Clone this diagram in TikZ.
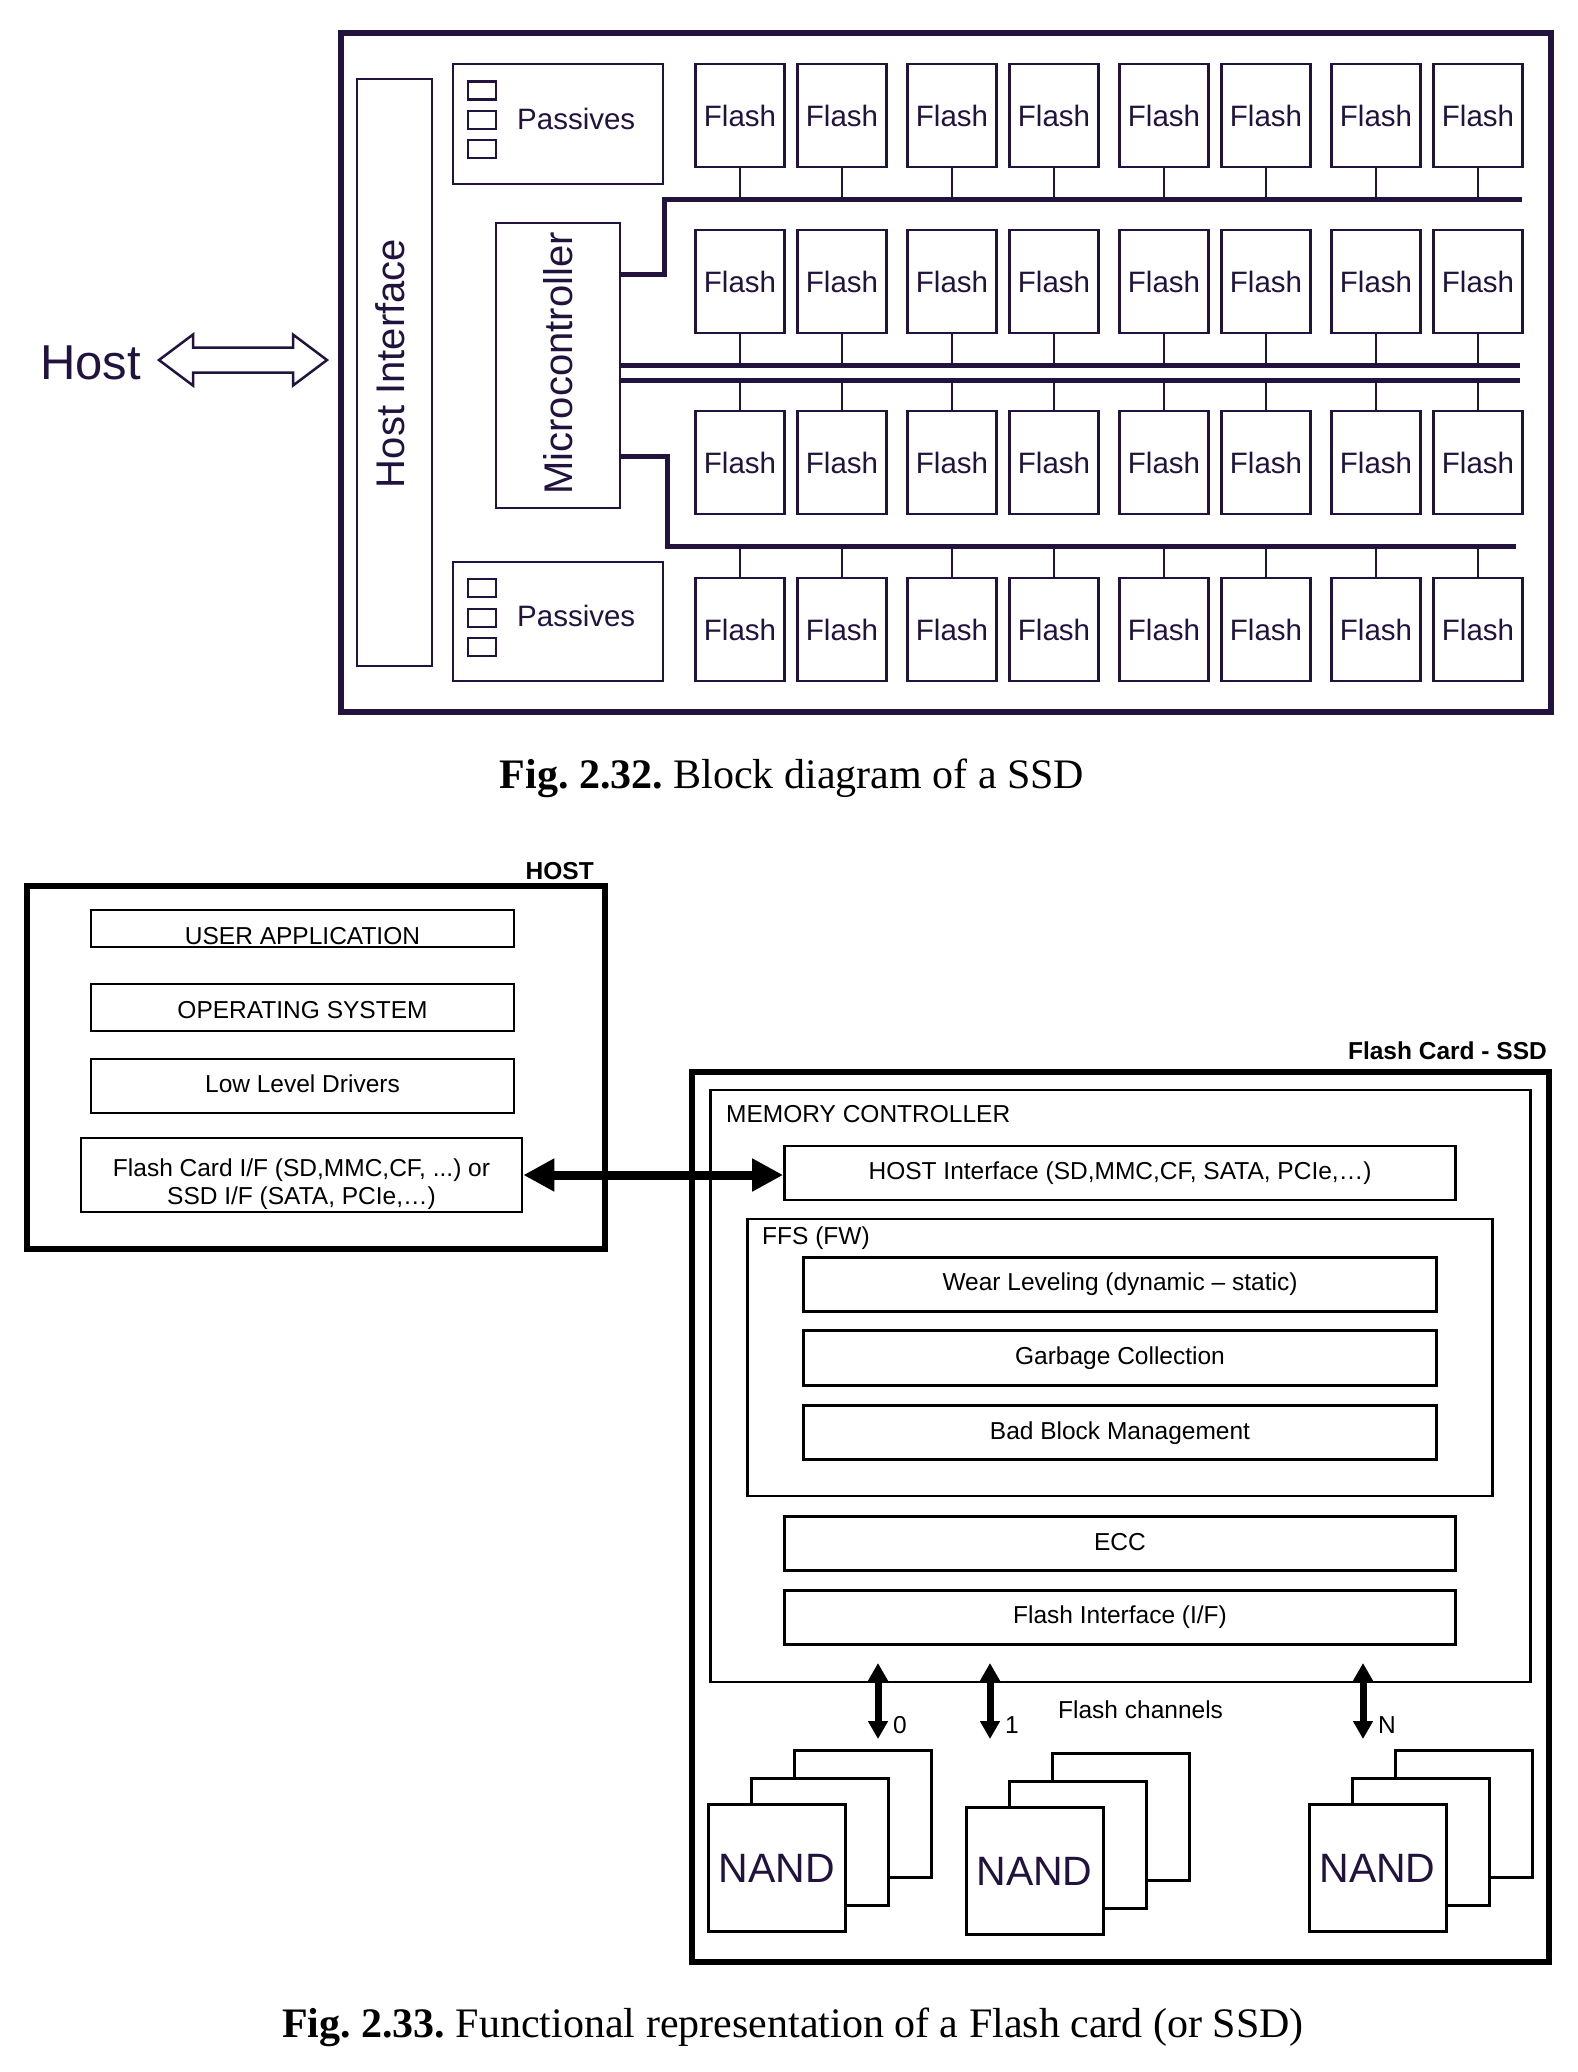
\documentclass[tikz,border=0pt]{standalone}
\usepackage{fontspec}
\setmainfont{Liberation Serif}
\newfontfamily\arialfont{Liberation Sans}
\usepackage{xcolor}
\usetikzlibrary{arrows.meta,calc,positioning}

\definecolor{chipink}{RGB}{33,19,62}
\frenchspacing

\begin{document}
\begin{tikzpicture}[x=1pt, y=-1pt,
    board/.style={draw=chipink, line width=6.5pt, inner sep=0pt},
    chip/.style={draw=chipink, line width=2.5pt, inner sep=0pt, text=chipink},
    flash/.style={chip, minimum width=89pt, minimum height=103pt, font=\arialfont\fontsize{29.5}{34}\selectfont},
    passq/.style={chip, minimum width=28pt, minimum height=18pt},
    chiptext/.style={text=chipink, inner sep=0pt, font=\arialfont\fontsize{29.5}{34}\selectfont},
    sidetext/.style={text=chipink, inner sep=0pt, rotate=90, font=\arialfont\fontsize{40}{46}\selectfont},
    bus/.style={draw=chipink, line width=5pt},
    stub/.style={draw=chipink, line width=2pt},
    hostarrow/.style={draw=chipink, line width=2.5pt, fill=white, line join=miter},
    caption/.style={anchor=base, inner sep=0pt, font=\fontsize{42}{50}\selectfont},
    card/.style={draw, line width=6pt, inner sep=0pt},
    block/.style={draw, line width=2.7pt, inner sep=0pt, font=\arialfont\fontsize{24.5}{28}\selectfont},
    midtext/.style={text height=17.5pt, text depth=5pt},
    tag/.style={inner sep=0pt, font=\arialfont\fontsize{24.5}{28}\selectfont},
    tagb/.style={inner sep=0pt, anchor=base east, font=\arialfont\bfseries\fontsize{24.5}{28}\selectfont},
    nandbox/.style={draw, fill=white, line width=3pt, minimum width=137pt, minimum height=127pt,
        inner sep=0pt, text=chipink, font=\arialfont\fontsize{41}{46}\selectfont},
    linkarrow/.style={{Triangle[length=31pt,width=31pt]}-{Triangle[length=31pt,width=31pt]}, line width=9pt},
    chanarrow/.style={{Triangle[length=18pt,width=19pt]}-{Triangle[length=18pt,width=19pt]}, line width=7pt}
  ]
  \useasboundingbox (0,0) rectangle (1578,2072);

  % Fig. 2.32
  \node[board, minimum width=1210pt, minimum height=679pt] (board) at (946,372.5) {};
  \node[anchor=base west, inner sep=0pt, text=chipink, font=\arialfont\fontsize{49}{56}\selectfont] (host) at (40,379) {Host};
  \coordinate (hostarr) at (243,360);
  \draw[hostarrow] ($(hostarr)+(-84,0)$) -- ++(34,-25.5) -- ++(0,13) -- ++(100,0) -- ++(0,-13)
    -- ++(34,25.5) -- ++(-34,25.5) -- ++(0,-13) -- ++(-100,0) -- ++(0,13) -- cycle;

  \node[chip, minimum width=75pt, minimum height=587pt] (hostif) at (394.5,372.5) {};
  \node[sidetext] (hostiftxt) at ($(hostif.center)+(-4,-9)$) {Host Interface};
  \node[chip, minimum width=124pt, minimum height=285pt] (micro) at (558,365.5) {};
  \node[sidetext] (microtxt) at ($(micro.center)+(0,-2)$) {Microcontroller};

  \node[chip, minimum width=210pt, minimum height=120pt] (passA) at (558,124) {};
  \node[chip, minimum width=210pt, minimum height=119pt] (passB) at (558,621.5) {};
  \foreach \i/\ya/\yb in {1/90.5/588, 2/120/618, 3/149/647} {
    \node[passq] (pa\i) at (482,\ya) {};
    \node[passq] (pb\i) at (482,\yb) {};
  }
  \node[chiptext, anchor=base west] (passAtxt) at (517,129) {Passives};
  \node[chiptext, anchor=base west] (passBtxt) at (517,626) {Passives};

  \foreach \r/\y in {1/115.5, 2/281.5, 3/462.5, 4/629.5}
    \foreach \c/\x in {1/740, 2/842, 3/952, 4/1054, 5/1164, 6/1266, 7/1376, 8/1478}
      \node[flash] (f\r\c) at (\x,\y) {Flash};

  % buses
  \coordinate (busAk) at (664,274);
  \coordinate (busA) at (664,199);
  \coordinate (busAend) at (1522,199);
  \coordinate (busBa) at (1520,365);
  \coordinate (busBb) at (1520,380);
  \coordinate (busCk) at (667,456);
  \coordinate (busC) at (667,546);
  \coordinate (busCend) at (1516,546);
  \draw[bus] (micro.east |- busAk) -- (busAk) -- (busA) -- (busAend);
  \draw[bus] (micro.east |- busBa) -- (busBa);
  \draw[bus] (micro.east |- busBb) -- (busBb);
  \draw[bus] (micro.east |- busCk) -- (busCk) -- (busC) -- (busCend);
  \foreach \c in {1,...,8} {
    \draw[stub] (f1\c.south) -- (f1\c.south |- busA);
    \draw[stub] (f2\c.south) -- (f2\c.south |- busBa);
    \draw[stub] (f3\c.north) -- (f3\c.north |- busBb);
    \draw[stub] (f4\c.north) -- (f4\c.north |- busC);
  }

  \node[caption] (cap1) at (792,788) {\textbf{Fig. 2.32.} Block diagram of a SSD};

  % Fig. 2.33 -- host side
  \node[card, minimum width=578pt, minimum height=363pt] (hostbox) at (316,1067.5) {};
  \node[tagb] (hostlbl) at (594,879) {HOST};
  \node[block, minimum width=423pt, minimum height=37pt, text height=31pt, text depth=0pt] (userapp) at (302.5,928.5) {USER APPLICATION};
  \node[block, minimum width=423pt, minimum height=47pt, text height=26pt, text depth=5pt] (opsys) at (302.5,1007.5) {OPERATING SYSTEM};
  \node[block, midtext, minimum width=423pt, minimum height=54pt] (lld) at (302.5,1086) {Low Level Drivers};
  \node[block, minimum width=441pt, minimum height=74pt] (flashif) at (301.5,1175) {};
  \node[tag, align=center] (flashiftxt) at ($(flashif.center)+(0,9)$)
    {Flash Card I/F (SD,MMC,CF, ...) or\\SSD I/F (SATA, PCIe,…)};

  % card side
  \node[card, minimum width=857pt, minimum height=890pt] (ssdbox) at (1120.5,1517) {};
  \node[tagb] (ssdlbl) at (1547,1059.5) {Flash Card - SSD};
  \node[block, minimum width=820pt, minimum height=592pt] (memctl) at (1120.75,1386) {};
  \node[tag, anchor=base west] (memtxt) at (726,1122) {MEMORY CONTROLLER};
  \node[block, midtext, minimum width=671pt, minimum height=54pt] (cardif) at (1120,1173) {HOST Interface (SD,MMC,CF, SATA, PCIe,…)};
  \node[block, minimum width=745pt, minimum height=277pt] (ffs) at (1120,1357.5) {};
  \node[tag, anchor=base west] (ffstxt) at (762,1244) {FFS (FW)};
  \node[block, midtext, minimum width=633pt, minimum height=54pt] (wear) at (1120,1284.5) {Wear Leveling (dynamic – static)};
  \node[block, midtext, minimum width=633pt, minimum height=55pt] (garb) at (1120,1358) {Garbage Collection};
  \node[block, midtext, minimum width=633pt, minimum height=54pt] (badb) at (1120,1432.75) {Bad Block Management};
  \node[block, midtext, minimum width=671pt, minimum height=54pt] (ecc) at (1120,1543.75) {ECC};
  \node[block, midtext, minimum width=671pt, minimum height=54pt] (nandif) at (1120,1617.25) {Flash Interface (I/F)};

  \draw[linkarrow] (flashif.east) -- (flashif.east -| cardif.west);

  % flash channels
  \foreach \n/\x in {0/878, 1/990, N/1363} {
    \coordinate (ch\n t) at (\x,1663);
    \coordinate (ch\n b) at (\x,1739);
    \draw[chanarrow] (ch\n t) -- (ch\n b);
    \node[tag, anchor=base west] (ch\n lbl) at (\x+15,1733) {\n};
  }
  \node[tag, anchor=base west] (chtxt) at (1058,1718) {Flash channels};

  \foreach \s/\x/\y in {1/777/1868, 2/1034.5/1871, 3/1377.5/1868} {
    \node[nandbox] (nand\s c) at (\x+86,\y-54) {};
    \node[nandbox] (nand\s b) at (\x+43,\y-26) {};
    \node[nandbox] (nand\s a) at (\x,\y) {NAND};
  }

  \node[caption] (cap2) at (793,2037) {\textbf{Fig. 2.33.} Functional representation of a Flash card (or SSD)};
\end{tikzpicture}
\end{document}
